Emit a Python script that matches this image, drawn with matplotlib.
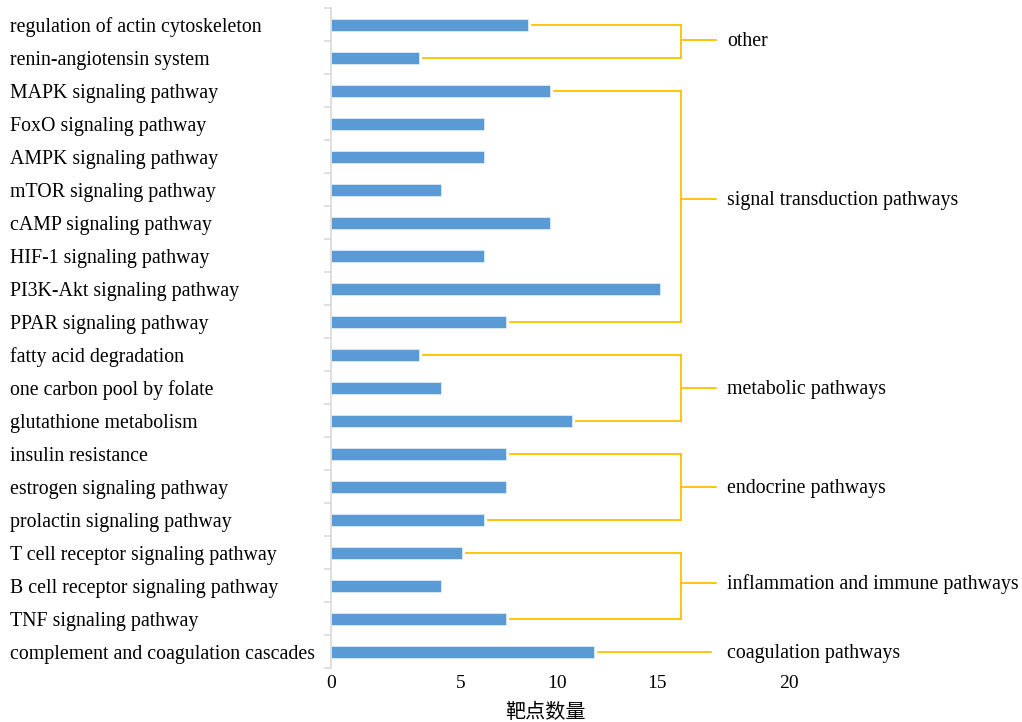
import matplotlib
matplotlib.use("Agg")
import matplotlib.pyplot as plt
import numpy as np

# data
pathways = ['regulation of actin cytoskeleton', 'renin-angiotensin system',
            'MAPK signaling pathway', 'FoxO signaling pathway', 'AMPK signaling pathway',
            'mTOR signaling pathway', 'cAMP signaling pathway', 'HIF-1 signaling pathway',
            'PI3K-Akt signaling pathway', 'PPAR signaling pathway',
            'fatty acid degradation', 'one carbon pool by folate', 'glutathione metabolism',
            'insulin resistance', 'estrogen signaling pathway', 'prolactin signaling pathway',
            'T cell receptor signaling pathway', 'B cell receptor signaling pathway',
            'TNF signaling pathway', 'complement and coagulation cascades']
counts = [9, 4, 10, 7, 7, 5, 10, 7, 15, 8, 4, 5, 11, 8, 8, 7, 6, 5, 8, 12]

groups      = ['other', 'signal transduction pathways', 'metabolic pathways',
               'endocrine pathways', 'inflammation and immune pathways', 'coagulation pathways']
group_first = [0, 2, 10, 13, 16, 19]
group_last  = [1, 9, 12, 15, 18, 19]
group_mid   = [0.45, 5.27, 11.0, 14.0, 16.9, 19.0]

tick_pos    = [0, 5.94, 10.3, 14.9, 20.9]
tick_labels = ['0', '5', '10', '15', '20']

# style
bar_color  = '#5B9BD5'
line_color = '#FFC000'
plt.rcParams['font.family'] = ['Liberation Serif', 'Noto Sans CJK SC']
FS = 14.3
XMAX = 21.5
PX_UNIT = 21.9   # pixels per count in the reference

fig = plt.figure(figsize=(10.22, 7.22), dpi=100)
ax = fig.add_axes([331/1022, 1 - 668.5/722, XMAX * PX_UNIT / 1022, 660/722])

y = np.arange(len(pathways))
ax.barh(y, counts, height=0.36, color=bar_color, edgecolor='#DDEBF7', linewidth=0.6)

# brackets
x_vert = 16.0
x_stub = 17.6
x_text = 18.1
gap = 0.18
for name, i0, i1, ym in zip(groups, group_first, group_last, group_mid):
    if i0 == i1:
        ax.plot([counts[i0] + gap, x_stub - 0.25], [i0, i0], color=line_color, lw=1.3, clip_on=False)
    else:
        for k in (i0, i1):
            ax.plot([counts[k] + gap, x_vert], [k, k], color=line_color, lw=1.3, clip_on=False)
        ax.plot([x_vert, x_vert], [i0, i1], color=line_color, lw=1.3, clip_on=False)
        ax.plot([x_vert, x_stub], [ym, ym], color=line_color, lw=1.3, clip_on=False)
    ax.text(x_text, ym + 0.05, name, fontsize=FS, va='center', ha='left', clip_on=False)

# axes styling
for s in ['top', 'right', 'bottom']:
    ax.spines[s].set_visible(False)
ax.spines['left'].set_color('#D9D9D9')
ax.spines['left'].set_linewidth(1.2)

ax.set_yticks(y)
ax.set_yticklabels(pathways, fontsize=FS, ha='left')
ax.tick_params(axis='y', length=0, pad=321 * 72 / 100)
ax.set_yticks(np.arange(-0.5, len(pathways)), minor=True)
ax.tick_params(axis='y', which='minor', length=5, color='#D9D9D9', width=1.2)

ax.set_xticks(tick_pos)
ax.set_xticklabels(tick_labels, fontsize=14)
ax.tick_params(axis='x', length=0, pad=5)
ax.set_xlabel('靶点数量', fontsize=14.5, family=['Noto Sans CJK SC'])
ax.xaxis.set_label_coords(214 / (XMAX * PX_UNIT), -33 / 660)

ax.set_xlim(0, XMAX)
ax.set_ylim(len(pathways) - 0.5, -0.5)

fig.savefig('out.png', dpi=100)
